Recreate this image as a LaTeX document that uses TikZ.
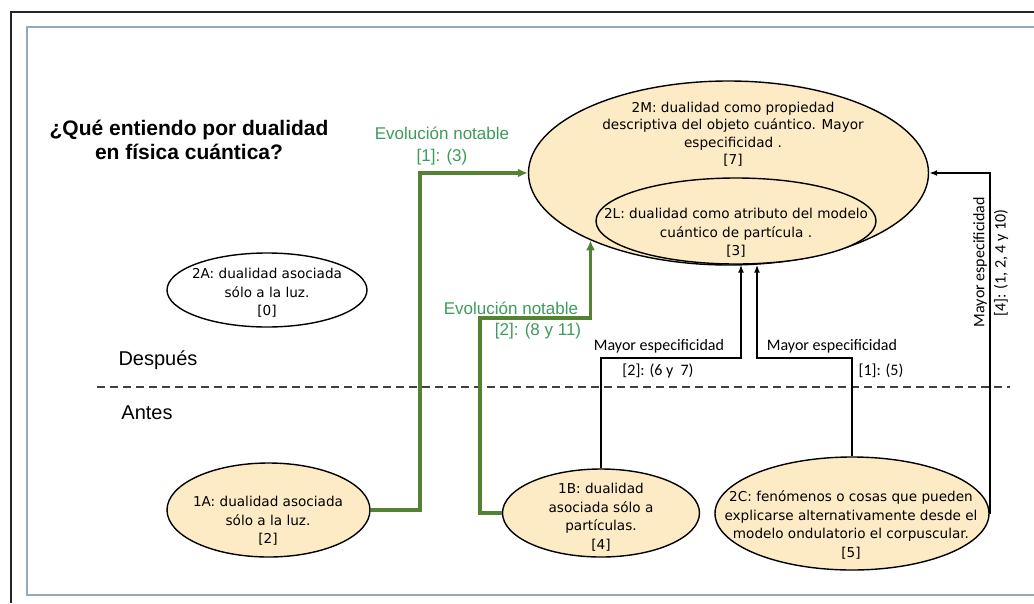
\documentclass[tikz,border=0pt]{standalone}
\usepackage{fontspec}
\setmainfont{DejaVu Sans}
\newfontfamily\arialf{Liberation Sans}
\newfontfamily\calf{Carlito}
\usetikzlibrary{shapes.geometric,arrows.meta}
\definecolor{peach}{RGB}{253,235,198}
\definecolor{gline}{RGB}{84,130,53}
\definecolor{gtext}{RGB}{60,155,90}
\definecolor{framec}{RGB}{150,168,188}
\tikzset{
  ell/.style={ellipse, draw=black, line width=1.4pt, inner sep=0pt},
  pell/.style={ell, fill=peach},
  etext/.style={align=center, inner sep=0pt, font=\fontsize{13.6}{18.5}\selectfont},
  lab/.style={inner sep=0pt, font=\calf\fontsize{16}{19}\selectfont},
  glab/.style={inner sep=0pt, align=center, text=gtext, font=\arialf\fontsize{17}{22}\selectfont},
  conn/.style={line width=2pt, -{Latex[length=8pt,width=6pt]}},
  gconn/.style={line width=3.6pt, gline, -{Latex[length=10pt,width=9pt]}},
}
\begin{document}
\begin{tikzpicture}[x=1pt,y=-1pt]
\useasboundingbox (0,0) rectangle (1034,603);
% frames
\draw[line width=1.5pt, black!85] (11,603) -- (11,12) -- (1034,12);
\draw[line width=2.2pt, framec] (1034,27) -- (27,27) -- (27,595) -- (1034,595);

% title
\node[align=center, inner sep=0pt, font=\arialf\bfseries\fontsize{21}{24}\selectfont] (title) at (189,140) {¿Qué entiendo por dualidad\\en física cuántica?};

% time labels
\node[inner sep=0pt, font=\arialf\fontsize{20}{24}\selectfont] (despues) at (158,360) {Después};
\node[inner sep=0pt, font=\arialf\fontsize{20}{24}\selectfont] (antes) at (147,413) {Antes};
\coordinate (dl) at (97,387);
\coordinate (dr) at (1010,387);
\draw[line width=1.6pt, black!75, dash pattern=on 8pt off 5pt] (dl) -- (dr);

% ellipses
\node[pell, minimum width=400pt, minimum height=184pt] (2M) at (728.5,173) {};
\node[pell, minimum width=280pt, minimum height=86pt] (2L) at (736,221) {};
\node[ell, fill=white, minimum width=200pt, minimum height=74pt] (2A) at (267,290) {};
\node[pell, minimum width=203pt, minimum height=94pt] (1A) at (268.5,510) {};
\node[pell, minimum width=197pt, minimum height=88pt] (1B) at (601,513) {};
\node[pell, minimum width=274pt, minimum height=113pt] (2C) at (852,513.5) {};

% ellipse texts
\node[etext, font=\fontsize{13.6}{17.5}\selectfont] (2Mt) at (733,134) {2M: dualidad como propiedad\\descriptiva del objeto cuántico. Mayor\\especificidad .\\{[7]}};
\node[etext] (2Lt) at (736,233) {2L: dualidad como atributo del modelo\\cuántico de partícula .\\{[3]}};
\node[etext] (2At) at (267,293) {2A: dualidad asociada\\sólo a la luz.\\{[0]}};
\node[etext] (1At) at (268,521) {1A: dualidad asociada\\sólo a la luz.\\{[2]}};
\node[etext] (1Bt) at (601,517) {1B: dualidad\\asociada sólo a\\partículas.\\{[4]}};
\node[etext] (2Ct) at (851,525) {2C: fenómenos o cosas que pueden\\explicarse alternativamente desde el\\modelo ondulatorio el corpuscular.\\{[5]}};

% black connectors
\coordinate (cB) at (741,358);
\coordinate (cC) at (757,358);
\draw[conn] (1B.north) |- (cB) -- (cB |- 2L.south);
\draw[conn] (2C.north) |- (cC) -- (cC |- 2L.south);
\draw[conn] (2C.east) |- (2M.east);

% green connectors
\coordinate (g1) at (420,173);
\coordinate (g2) at (480,318);
\draw[gconn] (1A.east) -| (g1) -- (2M.west);
\draw[gconn] (1B.west) -| (g2) -| (2M.206);

% labels
\node[lab] (lb1) at (659,346) {Mayor especificidad};
\node[lab] (lb2) at (658,371) {[2]: (6 y\ \ 7)};
\node[lab] (lc1) at (832,346) {Mayor especificidad};
\node[lab] (lc2) at (881,371) {[1]: (5)};
\node[lab, rotate=90] (ld1) at (980,262) {Mayor especificidad};
\node[lab, rotate=90] (ld2) at (1001,263) {[4]: (1, 2, 4 y 10)};
\node[glab] (ga) at (442,146) {Evolución notable\\{[1]: (3)}};
\node[glab] (gb1) at (511,308) {Evolución notable};
\node[glab] (gb2) at (538,331) {[2]: (8 y 11)};
\end{tikzpicture}
\end{document}
